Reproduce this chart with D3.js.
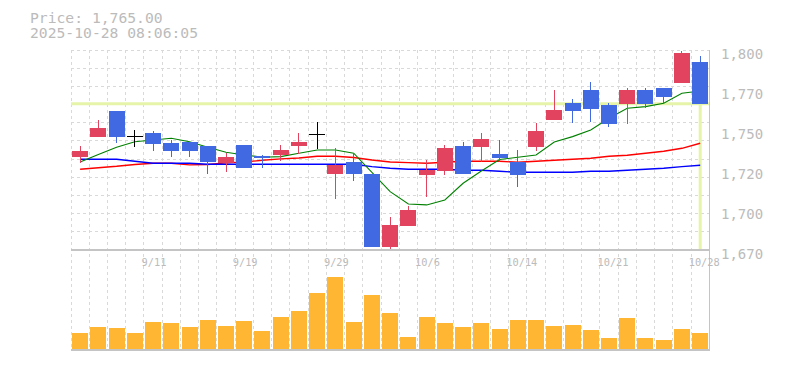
<!DOCTYPE html>
<html><head><meta charset="utf-8">
<script src="https://cdn.jsdelivr.net/npm/d3@7"></script>
<style>
html,body{margin:0;padding:0;background:#fff;}
svg{display:block;}
</style></head><body>
<svg id="c" width="785" height="370"></svg>
<script>
const dates = ["9/5","9/8","9/9","9/10","9/11","9/12","9/16","9/17","9/18","9/19",
  "9/22","9/24","9/25","9/26","9/29","9/30","10/1","10/2","10/3","10/6",
  "10/7","10/8","10/9","10/10","10/14","10/15","10/16","10/17","10/20","10/21",
  "10/22","10/23","10/24","10/27","10/28"];
const opens  = [1730.5,1743.5,1760.5,1744,1746,1739.5,1740,1737.5,1726.5,1738,
  1731,1731.5,1737.5,1745,1719.5,1727,1719.5,1672,1685.5,1718.5,
  1721.5,1737.5,1737,1732.5,1727,1737,1754.5,1765.5,1774,1764,
  1765,1774,1775.5,1778.5,1792];
const highs  = [1737.5,1754.5,1760.5,1748,1747.5,1741.5,1740,1737.5,1733,1738,
  1732,1738,1746,1753,1736.5,1733,1719.5,1691.5,1698.5,1728.5,
  1738,1740,1746,1741.5,1735,1752.5,1774,1768,1779,1765.5,
  1775.5,1775.5,1775.5,1799.5,1796];
const lows   = [1726.5,1743.5,1739.5,1737,1734.5,1730.5,1730.5,1719.5,1721,1723,
  1723,1728,1732.5,1735.5,1703,1715,1672,1670,1685.5,1704.5,
  1719,1719.5,1727,1727,1711,1734.5,1754.5,1752.5,1753,1750,
  1752,1762,1765,1778.5,1765];
const closes = [1734.5,1749.5,1743.5,1744,1739,1734.5,1734.5,1727,1730.5,1723,
  1730,1735,1740,1745,1725,1719.5,1672,1686,1696,1722,
  1736.5,1719.5,1742,1730,1719,1747.5,1761,1760.5,1761.5,1752,
  1774,1765,1769.5,1798,1765];
const volumes = [160,220,210,160,270,260,220,290,230,280,
  180,320,380,560,720,270,540,360,120,320,
  260,220,260,200,290,290,230,240,190,110,
  310,110,90,200,160];
const ma5  = [1727.2,1732,1736.8,1740.4,1741.5,1742.6,1740.4,1736.8,1733.5,1731.8,
  1730.3,1730.7,1732.9,1735,1735,1732.9,1720.4,1707.9,1699.9,1699.3,
  1702.5,1713.4,1721.4,1728.8,1730.3,1731.8,1740.2,1743.7,1748,1755.6,
  1762.1,1763.2,1765.4,1771.9,1773.4];
const ma25 = [1722.5,1723.5,1724.4,1725.6,1726.4,1726.4,1725.3,1725.6,1726.6,1727.2,
  1728.3,1729.2,1729.8,1730.9,1730.9,1730.1,1728.5,1727.2,1726.8,1726.4,
  1727,1727.7,1727.7,1727.7,1727,1727.7,1728.3,1729,1729.6,1730.9,
  1731.6,1732.9,1734.2,1736.1,1739.4];
const ma75 = [1729,1729,1729,1727.7,1726.4,1726.4,1726.4,1725.7,1725.7,1725.7,
  1725.7,1725.7,1725.7,1725.7,1725.7,1725.7,1724.2,1723.1,1722.5,1722.5,
  1722.5,1721.8,1721.8,1721.2,1720.5,1720.5,1720.5,1720.5,1721.2,1721.2,
  1721.8,1722.5,1723.1,1724.2,1725.1];
const priceTicks = [1800,1774,1748,1722,1696,1670];
const priceTickLabels = ["1,800","1,770","1,750","1,720","1,700","1,670"];
const dateTickIndex = [4,9,14,19,24,29,34];
const currentPrice = 1765;
const titleLines = ["Price: 1,765.00","2025-10-28 08:06:05"];

const FONT = "'DejaVu Sans Mono','Liberation Mono',monospace";
const TXT = "#bbbbbb";
const UP = "#e2445f", DOWN = "#4169e1";

const svg = d3.select("#c");
const n = dates.length;
const x = d3.scaleBand().domain(d3.range(n)).range([71, 709.3]);
const cx = i => x(i) + x.bandwidth() / 2;
const y = d3.scaleLinear().domain([1670, 1800]).range([250, 50]);
const yv = d3.scaleLinear().domain([0, 1000]).range([349, 249]);
const snap = v => Math.floor(v) + 0.5;

// title
svg.append("g").selectAll("text").data(titleLines).join("text")
  .attr("x", 30).attr("y", (d, i) => 22.7 + i * 15.6)
  .attr("font-family", FONT).attr("font-size", 14.7).attr("fill", TXT)
  .text(d => d);

// grid
const grid = svg.append("g").attr("stroke", "#d9d9d9").attr("stroke-dasharray", "3,3")
  .attr("shape-rendering", "crispEdges").attr("stroke-width", 1);
const hGrid = d3.range(11).map(k => 1800 - k * 130 / 11);
grid.selectAll("line.h").data(hGrid).join("line").attr("class", "h")
  .attr("x1", 71).attr("x2", 709).attr("y1", d => snap(y(d))).attr("y2", d => snap(y(d)));
grid.selectAll("line.v").data(d3.range(n)).join("line").attr("class", "v")
  .attr("x1", i => snap(x(i))).attr("x2", i => snap(x(i))).attr("y1", 50).attr("y2", 350);

// current price markers
const yel = "#e5f4a8";
svg.append("line").attr("x1", 71).attr("x2", 709).attr("y1", y(currentPrice)).attr("y2", y(currentPrice))
  .attr("stroke", yel).attr("stroke-width", 3);
svg.append("line").attr("x1", cx(n - 1)).attr("x2", cx(n - 1)).attr("y1", y(currentPrice)).attr("y2", 249)
  .attr("stroke", yel).attr("stroke-width", 3);

// volume
svg.append("g").selectAll("rect").data(volumes).join("rect")
  .attr("x", (d, i) => cx(i) - 8).attr("width", 16)
  .attr("y", d => yv(d)).attr("height", d => yv(0) - yv(d))
  .attr("fill", "#ffb733").attr("shape-rendering", "crispEdges");

// moving averages
const line = d3.line().x((d, i) => cx(i)).y(d => y(d));
[[ma25, "#ff0000", 1.4], [ma75, "#0000ff", 1.4], [ma5, "#008000", 1.1]].forEach(([s, c, w]) => {
  svg.append("path").datum(s).attr("d", line).attr("fill", "none")
    .attr("stroke", c).attr("stroke-width", w);
});

// candles
const cg = svg.append("g").attr("shape-rendering", "crispEdges");
d3.range(n).forEach(i => {
  const o = opens[i], c = closes[i], h = highs[i], l = lows[i];
  const xc = snap(cx(i));
  if (o === c) {
    cg.append("line").attr("x1", xc).attr("x2", xc).attr("y1", y(h)).attr("y2", y(l))
      .attr("stroke", "#000");
    cg.append("line").attr("x1", cx(i) - 8).attr("x2", cx(i) + 8).attr("y1", snap(y(o))).attr("y2", snap(y(o)))
      .attr("stroke", "#000");
  } else {
    const col = c > o ? UP : DOWN;
    cg.append("line").attr("x1", xc).attr("x2", xc).attr("y1", y(h)).attr("y2", y(l))
      .attr("stroke", col);
    cg.append("rect").attr("x", cx(i) - 8).attr("width", 16)
      .attr("y", y(Math.max(o, c))).attr("height", Math.max(1, Math.abs(y(o) - y(c))))
      .attr("fill", col);
  }
});

// frame lines
const fr = svg.append("g").attr("stroke", "#c4c4c4").attr("shape-rendering", "crispEdges");
fr.append("line").attr("x1", 71).attr("x2", 710).attr("y1", 250).attr("y2", 250).attr("stroke-width", 2);
fr.append("line").attr("x1", 71).attr("x2", 710).attr("y1", 350).attr("y2", 350).attr("stroke-width", 2);
fr.append("line").attr("x1", 709.5).attr("x2", 709.5).attr("y1", 50).attr("y2", 351).attr("stroke-width", 1.5);

// price axis
const yAxis = d3.axisRight(y).tickValues(priceTicks)
  .tickFormat(d => priceTickLabels[priceTicks.indexOf(d)]).tickSize(0).tickPadding(0);
svg.append("g").attr("transform", "translate(721,0)").call(yAxis)
  .call(g => g.select(".domain").remove())
  .call(g => g.selectAll("text").attr("font-family", FONT).attr("font-size", 14)
    .attr("fill", TXT).attr("dy", 8.3).attr("x", 0));

// date axis
const xAxis = d3.axisBottom(x).tickValues(dateTickIndex).tickFormat(i => dates[i]).tickSize(0);
svg.append("g").attr("transform", "translate(0,250)").call(xAxis)
  .call(g => g.select(".domain").remove())
  .call(g => g.selectAll("text").attr("font-family", FONT).attr("font-size", 10.3)
    .attr("fill", TXT).attr("text-anchor", "start").attr("x", -11.5).attr("y", 16).attr("dy", 0));
</script>
</body></html>
